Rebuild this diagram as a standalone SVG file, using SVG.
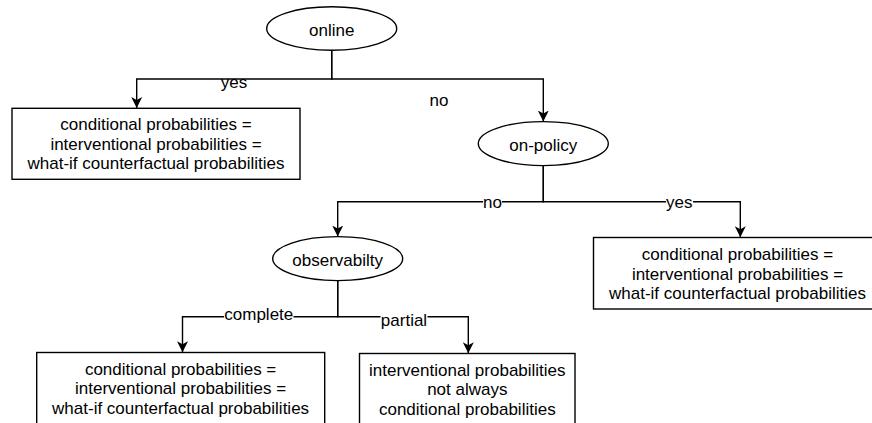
<svg xmlns="http://www.w3.org/2000/svg" width="872" height="423" viewBox="0 0 872 423">
  <style>
    .shape { fill: #ffffff; stroke: #000000; stroke-width: 1.4; }
    .edge { fill: none; stroke: #000000; stroke-width: 1.4; }
    .t { font-family: "Liberation Sans", Arial, Helvetica, sans-serif; font-size: 17px; fill: #000000; text-anchor: middle; }
    .lblbg { fill: #ffffff; stroke: none; }
  </style>
  <defs>
    <marker id="arr" markerUnits="userSpaceOnUse" markerWidth="12" markerHeight="12" viewBox="0 0 12 12" refX="11" refY="6" orient="auto">
      <path d="M0,0.5 L11,6 L0,11.5 L3,6 Z" fill="#000000"/>
    </marker>
  </defs>
  <rect width="872" height="423" fill="#ffffff"/>

  <g id="connectors">
    <path class="edge" d="M331.7,50 V79 H136.7 V108" marker-end="url(#arr)"/>
    <path class="edge" d="M331.7,50 V79 H543.3 V121.5" marker-end="url(#arr)"/>
    <path class="edge" d="M543.3,165.5 V201.7 H337.7 V236.5" marker-end="url(#arr)"/>
    <path class="edge" d="M543.3,165.5 V201.7 H740.3 V237.3" marker-end="url(#arr)"/>
    <path class="edge" d="M337.7,280.5 V316.7 H182.5 V352.3" marker-end="url(#arr)"/>
    <path class="edge" d="M337.7,280.5 V316.7 H468.3 V353.3" marker-end="url(#arr)"/>
    <g id="edge-labels">
      <rect class="lblbg" x="220.5" y="80" width="27" height="14"/>
      <text class="t" x="234" y="88">yes</text>
      <text class="t" x="439" y="106">no</text>
      <rect class="lblbg" x="483" y="195" width="19" height="14"/>
      <text class="t" x="492.5" y="207.5">no</text>
      <rect class="lblbg" x="666" y="195" width="27" height="14"/>
      <text class="t" x="679.3" y="207.5">yes</text>
      <rect class="lblbg" x="224" y="308" width="69.5" height="15"/>
      <text class="t" x="258.8" y="320">complete</text>
      <rect class="lblbg" x="380.5" y="312" width="47" height="17"/>
      <text class="t" x="404" y="325.5">partial</text>
    </g>
  </g>

  <g id="node-online">
    <ellipse class="shape" cx="331.7" cy="28.5" rx="65" ry="21.7"/>
    <text class="t" x="331.7" y="36">online</text>
  </g>

  <g id="node-online-yes">
    <rect class="shape" x="12" y="108.3" width="288" height="71"/>
    <text class="t" x="156" y="129.8">conditional probabilities =</text>
    <text class="t" x="156" y="149.5">interventional probabilities =</text>
    <text class="t" x="156" y="169.2">what-if counterfactual probabilities</text>
  </g>

  <g id="node-onpolicy">
    <ellipse class="shape" cx="543.3" cy="143.6" rx="65" ry="22"/>
    <text class="t" x="543.3" y="150.5">on-policy</text>
  </g>

  <g id="node-onpolicy-yes">
    <rect class="shape" x="593.5" y="237.5" width="288" height="71.5"/>
    <text class="t" x="737.5" y="259.8">conditional probabilities =</text>
    <text class="t" x="737.5" y="279.5">interventional probabilities =</text>
    <text class="t" x="737.5" y="299.2">what-if counterfactual probabilities</text>
  </g>

  <g id="node-observability">
    <ellipse class="shape" cx="337.7" cy="258.6" rx="65" ry="22"/>
    <text class="t" x="337.7" y="265.5">observabilty</text>
  </g>

  <g id="node-complete">
    <rect class="shape" x="36.7" y="352.5" width="288" height="80"/>
    <text class="t" x="180.6" y="374.5">conditional probabilities =</text>
    <text class="t" x="180.6" y="394.2">interventional probabilities =</text>
    <text class="t" x="180.6" y="413.9">what-if counterfactual probabilities</text>
  </g>

  <g id="node-partial">
    <rect class="shape" x="359.5" y="353.5" width="215.5" height="80"/>
    <text class="t" x="467.3" y="375.5">interventional probabilities</text>
    <text class="t" x="467.3" y="395.2">not always</text>
    <text class="t" x="467.3" y="414.9">conditional probabilities</text>
  </g>
</svg>
